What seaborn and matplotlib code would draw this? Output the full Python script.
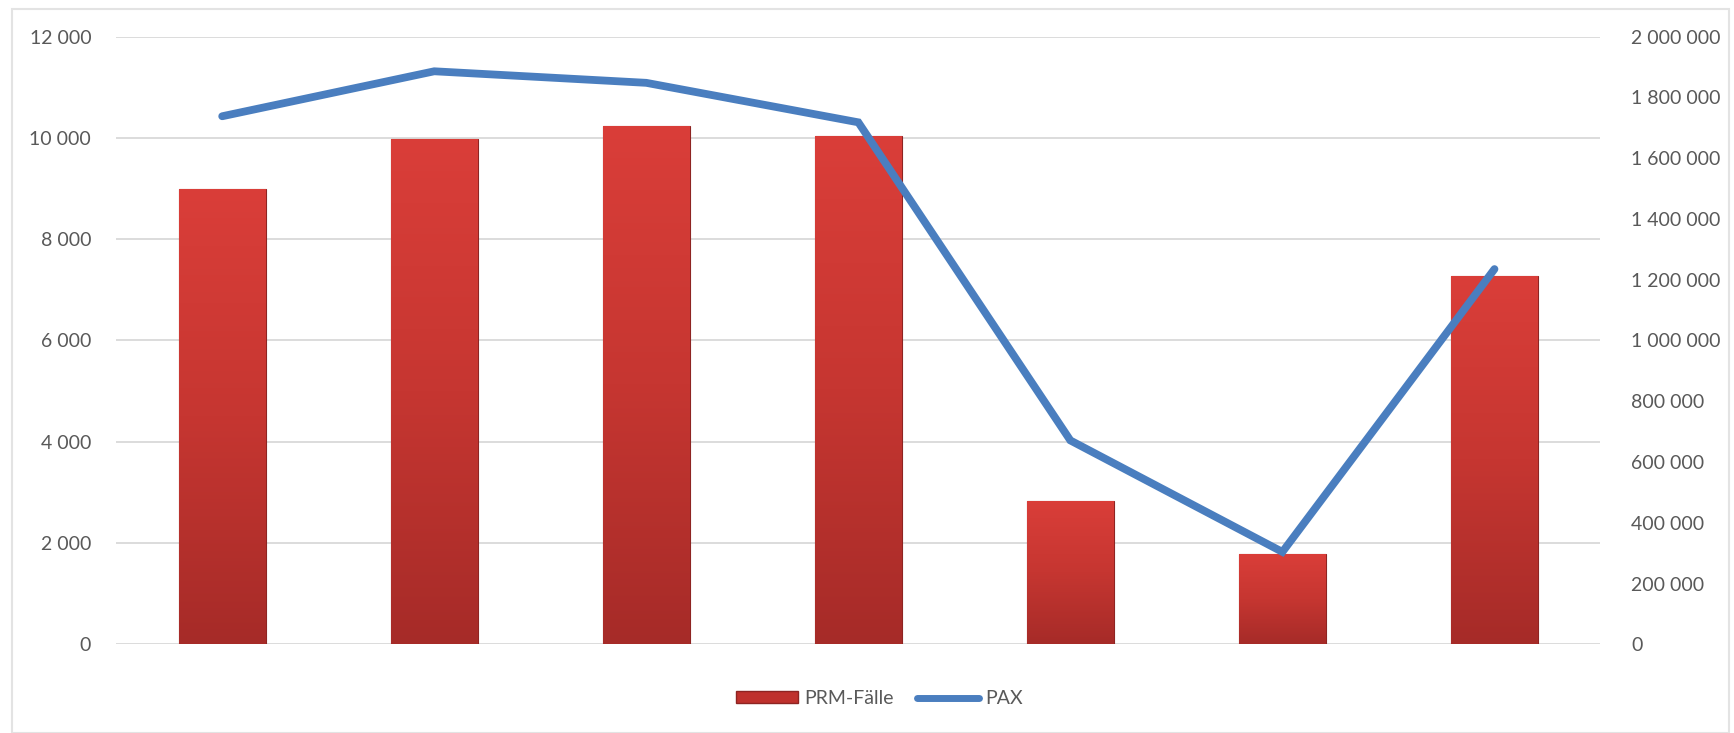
import numpy as np
import pandas as pd
import matplotlib
matplotlib.use("Agg")
import matplotlib.pyplot as plt
import seaborn as sns
from matplotlib.patches import Rectangle, Patch
from matplotlib.lines import Line2D
from matplotlib.ticker import FuncFormatter
from matplotlib.colors import LinearSegmentedColormap

# ---- data ----
categories = ["1", "2", "3", "4", "5", "6", "7"]
prm_faelle = [8985, 9970, 10245, 10035, 2825, 1775, 7275]
pax = [1738000, 1886000, 1848000, 1718000, 671000, 304000, 1235000]
left_ticks = [0, 2000, 4000, 6000, 8000, 10000, 12000]
right_ticks = [0, 200000, 400000, 600000, 800000, 1000000, 1200000,
               1400000, 1600000, 1800000, 2000000]
legend_labels = ["PRM-Fälle", "PAX"]

sns.set_theme(style="white")
plt.rcParams['font.family'] = ['Lato', 'DejaVu Sans']

fig = plt.figure(figsize=(17.34, 7.33), dpi=100)
ax = fig.add_axes([0.067, 0.121, 0.856, 0.829])

df = pd.DataFrame({"cat": categories, "prm": prm_faelle, "pax": pax})

bar_color = "#C8342F"
sns.barplot(data=df, x="cat", y="prm", color=bar_color, width=0.41,
            saturation=1, ax=ax, zorder=2)

# gradient shading inside bars
grad = np.linspace(0, 1, 256).reshape(-1, 1)
cmap = LinearSegmentedColormap.from_list("bar", ["#A62B28", "#C63631", "#DA3E39"])
for p in ax.patches:
    x0, y0 = p.get_x(), p.get_y()
    w, h = p.get_width(), p.get_height()
    im = ax.imshow(grad, extent=[x0, x0 + w, y0, y0 + h], origin="lower",
                   cmap=cmap, aspect="auto", zorder=2.1)
    im.set_clip_path(p)
    p.set_edgecolor("#8E2422")
    p.set_linewidth(0.8)

ax.set_xlim(-0.5, len(categories) - 0.5)
ax.set_ylim(0, 12000)
ax.set_yticks(left_ticks)
fmt = FuncFormatter(lambda v, pos: f"{int(v):,}".replace(",", " "))
ax.yaxis.set_major_formatter(fmt)
ax.grid(axis="y", color="#D9D9D9", linewidth=1.3, zorder=0)
ax.set_axisbelow(True)
ax.set_xlabel("")
ax.set_ylabel("")
ax.set_xticks(range(len(categories)))
ax.set_xticklabels([""] * len(categories))
ax.tick_params(axis="x", length=0)
ax.tick_params(axis="y", length=0, pad=18, labelsize=14, labelcolor="#595959")
for s in ax.spines.values():
    s.set_visible(False)

ax2 = ax.twinx()
sns.lineplot(data=df, x="cat", y="pax", color="#4A7EBF", linewidth=5.6,
             ax=ax2, zorder=3, solid_capstyle="round", solid_joinstyle="miter")
ax2.set_ylim(0, 2000000)
ax2.set_yticks(right_ticks)
ax2.yaxis.set_major_formatter(fmt)
ax2.set_ylabel("")
ax2.set_xlabel("")
ax2.tick_params(axis="y", length=0, pad=22, labelsize=14, labelcolor="#595959")
ax2.grid(False)
for s in ax2.spines.values():
    s.set_visible(False)
ax2.set_xlim(-0.5, len(categories) - 0.5)

handles = [Patch(facecolor="#BF312D", edgecolor="#8E2422"),
           Line2D([0], [0], color="#4A7EBF", linewidth=5, solid_capstyle="round")]
fig.legend(handles, legend_labels, loc="center", bbox_to_anchor=(0.507, 0.047),
           ncol=2, frameon=False, fontsize=14, labelcolor="#595959",
           handlelength=3.2, handleheight=0.6, handletextpad=0.3, columnspacing=1.2)

# outer light frame
fig.patches.append(Rectangle((0.007, 0.0), 0.99, 0.988, transform=fig.transFigure,
                             fill=False, edgecolor="#E3E3E3", linewidth=1.5))

fig.savefig("out.png", dpi=100, facecolor="white")
